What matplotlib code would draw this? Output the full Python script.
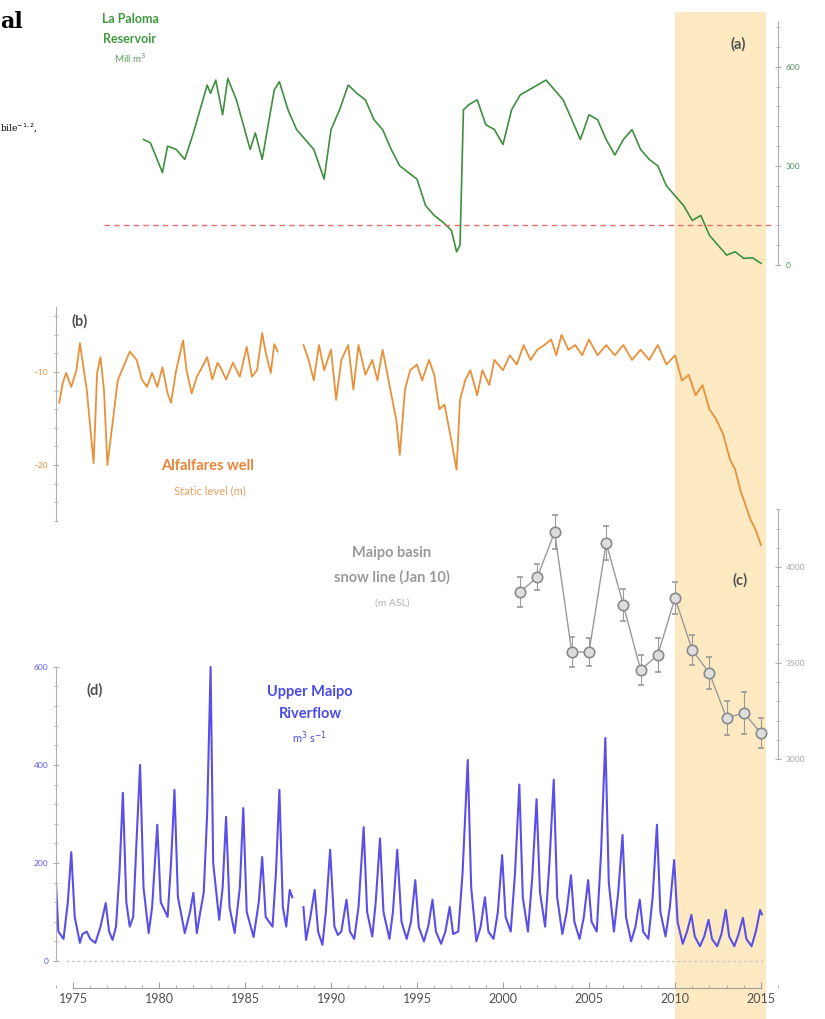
import numpy as np
import matplotlib
matplotlib.use("Agg")
from matplotlib import pyplot as plt
from matplotlib.ticker import MultipleLocator, FixedLocator

plt.rcParams['font.family'] = ['Lato', 'DejaVu Sans']

# (a) La Paloma reservoir volume, Mill m3
res_year = [1979.1, 1979.5, 1980.2, 1980.5, 1981.0, 1981.5, 1982.0, 1982.8, 1983.0, 1983.3,
            1983.7, 1984.0, 1984.5, 1985.3, 1985.6, 1986.0, 1986.7, 1987.0, 1987.5, 1988.0,
            1988.5, 1989.0, 1989.6, 1990.0, 1990.5, 1991.0, 1991.5, 1992.0, 1992.5, 1993.0,
            1993.5, 1994.0, 1995.0, 1995.5, 1996.0, 1996.5, 1997.0, 1997.3, 1997.5, 1997.7,
            1998.0, 1998.5, 1999.0, 1999.5, 2000.0, 2000.5, 2001.0, 2001.5, 2002.0, 2002.5,
            2003.0, 2003.5, 2004.0, 2004.5, 2005.0, 2005.5, 2006.0, 2006.5, 2007.0, 2007.5,
            2008.0, 2008.5, 2009.0, 2009.5, 2010.0, 2010.5, 2011.0, 2011.5, 2012.0, 2012.5,
            2013.0, 2013.5, 2014.0, 2014.5, 2015.0]
res_vol = [380, 370, 280, 360, 350, 320, 400, 545, 520, 560,
           455, 565, 500, 350, 400, 320, 530, 555, 470, 410,
           380, 350, 260, 410, 470, 545, 520, 500, 440, 410,
           350, 300, 260, 180, 150, 130, 105, 40, 60, 470,
           485, 500, 425, 410, 365, 470, 515, 530, 545, 560,
           530, 500, 440, 380, 455, 440, 380, 333, 380, 410,
           350, 320, 300, 240, 210, 180, 135, 150, 90, 60,
           30, 40, 20, 22, 5]

# (b) Alfalfares well static level, m
well_year = [1974.2, 1974.4, 1974.6, 1974.9, 1975.2, 1975.4, 1975.8, 1976.2, 1976.4, 1976.6,
             1976.8, 1977.0, 1977.3, 1977.6, 1978.3, 1978.7, 1979.0, 1979.3, 1979.6, 1979.9,
             1980.2, 1980.5, 1980.7, 1981.0, 1981.4, 1981.6, 1981.9, 1982.2, 1982.5, 1982.8,
             1983.1, 1983.4, 1983.6, 1983.9, 1984.3, 1984.7, 1985.1, 1985.4, 1985.7, 1986.0,
             1986.2, 1986.5, 1986.7, 1986.9, np.nan,
             1988.4, 1988.7, 1989.0, 1989.3, 1989.6, 1990.0, 1990.3, 1990.6, 1991.0, 1991.3,
             1991.6, 1992.0, 1992.4, 1992.7, 1993.0, 1993.4, 1993.8, 1994.0, 1994.3, 1994.6,
             1995.0, 1995.3, 1995.7, 1996.0, 1996.3, 1996.6, 1997.0, 1997.3, 1997.5, 1997.8,
             1998.1, 1998.5, 1998.8, 1999.2, 1999.5, 2000.0, 2000.4, 2000.8, 2001.2, 2001.6,
             2002.0, 2002.4, 2002.8, 2003.1, 2003.4, 2003.8, 2004.2, 2004.6, 2005.0, 2005.5,
             2006.0, 2006.5, 2007.0, 2007.5, 2008.0, 2008.5, 2009.0, 2009.5, 2010.0, 2010.4,
             2010.8, 2011.2, 2011.6, 2012.0, 2012.4, 2012.8, 2013.2, 2013.5, 2013.8, 2014.1,
             2014.4, 2014.7, 2015.0]
well_level = [-13.3, -11.2, -10.1, -11.6, -9.8, -6.9, -11.9, -19.8, -10.1, -8.4,
              -11.9, -20.0, -15.5, -10.9, -7.8, -8.7, -10.8, -11.6, -10.1, -11.6,
              -9.5, -12.3, -13.3, -9.8, -6.6, -9.8, -12.3, -10.5, -9.5, -8.4,
              -10.8, -9.0, -9.6, -10.8, -9.0, -10.5, -7.3, -10.5, -9.8, -5.8,
              -7.9, -10.1, -7.0, -7.8, np.nan,
              -7.1, -8.7, -10.9, -7.1, -9.8, -7.6, -13.0, -8.7, -7.1, -11.9,
              -7.1, -10.3, -8.7, -10.9, -7.6, -11.4, -15.2, -18.9, -11.9, -9.8,
              -9.2, -10.9, -8.7, -10.3, -14.0, -13.5, -17.4, -20.5, -13.0, -10.9,
              -9.8, -12.5, -9.8, -11.4, -8.7, -9.8, -8.2, -9.2, -7.1, -8.7,
              -7.6, -7.1, -6.5, -8.2, -6.0, -7.6, -7.1, -8.2, -6.5, -8.2,
              -7.1, -8.2, -7.1, -8.7, -7.6, -8.7, -7.1, -9.2, -8.2, -10.9,
              -10.3, -12.5, -11.4, -14.0, -15.1, -16.7, -19.4, -20.5, -22.7, -24.3,
              -25.9, -27.0, -28.6]

# (c) Maipo basin snow line on Jan 10, m ASL
snow_year = [2001, 2002, 2003, 2004, 2005, 2006, 2007, 2008, 2009, 2010, 2011, 2012, 2013, 2014, 2015]
snow_line = [3870, 3948, 4182, 3557, 3557, 4125, 3802, 3464, 3542, 3839, 3568, 3448, 3214, 3240, 3135]
snow_err = [80, 70, 90, 80, 75, 90, 85, 80, 90, 85, 80, 85, 90, 110, 80]

# (d) Upper Maipo riverflow, m3 s-1
flow_year = [1974.00, 1974.15, 1974.45, 1974.7, 1974.9, 1975.1, 1975.4, 1975.55, 1975.8, 1976.0,
             1976.3, 1976.6, 1976.9, 1977.1, 1977.3, 1977.5, 1977.7, 1977.9, 1978.1, 1978.3,
             1978.5, 1978.7, 1978.9, 1979.1, 1979.4, 1979.6, 1979.9, 1980.1, 1980.5, 1980.7,
             1980.9, 1981.1, 1981.5, 1981.8, 1982.0, 1982.2, 1982.4, 1982.6, 1982.8, 1983.0,
             1983.15, 1983.5, 1983.7, 1983.9, 1984.1, 1984.4, 1984.7, 1984.9, 1985.1, 1985.5,
             1985.8, 1986.0, 1986.2, 1986.6, 1986.8, 1987.0, 1987.2, 1987.4, 1987.6, 1987.75,
             np.nan,
             1988.4, 1988.55, 1988.8, 1989.05, 1989.25, 1989.5, 1989.7, 1989.95, 1990.2, 1990.4,
             1990.6, 1990.9, 1991.1, 1991.35, 1991.6, 1991.9, 1992.1, 1992.4, 1992.6, 1992.85,
             1993.05, 1993.4, 1993.6, 1993.85, 1994.1, 1994.4, 1994.65, 1994.9, 1995.1, 1995.4,
             1995.65, 1995.9, 1996.1, 1996.4, 1996.65, 1996.9, 1997.1, 1997.4, 1997.65, 1997.95,
             1998.15, 1998.45, 1998.7, 1998.95, 1999.15, 1999.45, 1999.7, 1999.95, 2000.15, 2000.45,
             2000.7, 2000.95, 2001.15, 2001.45, 2001.7, 2001.95, 2002.15, 2002.45, 2002.7, 2002.95,
             2003.15, 2003.45, 2003.7, 2003.95, 2004.15, 2004.45, 2004.7, 2004.95, 2005.15, 2005.45,
             2005.7, 2005.95, 2006.15, 2006.45, 2006.7, 2006.95, 2007.15, 2007.45, 2007.7, 2007.95,
             2008.15, 2008.45, 2008.7, 2008.95, 2009.15, 2009.45, 2009.7, 2009.95, 2010.15, 2010.45,
             2010.7, 2010.95, 2011.15, 2011.45, 2011.7, 2011.95, 2012.15, 2012.45, 2012.7, 2012.95,
             2013.15, 2013.45, 2013.7, 2013.95, 2014.15, 2014.45, 2014.7, 2014.95, 2015.05]
flow = [165, 60, 45, 120, 222, 90, 37, 55, 60, 45,
        37, 70, 118, 60, 43, 70, 180, 343, 120, 70,
        90, 250, 400, 150, 57, 110, 278, 120, 90, 200,
        349, 130, 57, 100, 139, 57, 100, 139, 300, 600,
        200, 84, 150, 294, 110, 57, 150, 312, 100, 49,
        120, 212, 90, 70, 180, 349, 110, 70, 145, 130,
        np.nan,
        110, 43, 90, 145, 60, 33, 100, 227, 70, 53,
        60, 125, 60, 45, 110, 273, 100, 50, 120, 250,
        100, 45, 100, 227, 80, 45, 80, 165, 70, 40,
        70, 125, 60, 35, 60, 110, 55, 60, 180, 410,
        150, 40, 70, 130, 60, 45, 100, 216, 90, 60,
        180, 360, 130, 60, 170, 330, 140, 70, 200, 370,
        130, 55, 100, 175, 80, 45, 90, 165, 80, 60,
        220, 455, 160, 60, 140, 257, 90, 40, 70, 125,
        60, 45, 130, 278, 100, 50, 110, 206, 80, 35,
        60, 94, 50, 30, 50, 84, 45, 30, 55, 104,
        50, 30, 55, 88, 45, 30, 60, 104, 95]

x_ticks = [1975, 1980, 1985, 1990, 1995, 2000, 2005, 2010, 2015]
drought = [2010, 2015.3]

W, H = 825, 1019
X0, X1 = 1974, 2016
LEFT, RIGHT = 55.8, 778.2

fig = plt.figure(figsize=(W / 100, H / 100), dpi=100)


def panel(top, bottom):
    ax = fig.add_axes([LEFT / W, 1 - bottom / H, (RIGHT - LEFT) / W, (bottom - top) / H])
    ax.set_xlim(X0, X1)
    ax.patch.set_alpha(0)
    for s in ['top', 'bottom', 'left', 'right']:
        ax.spines[s].set_visible(False)
    ax.set_xticks([])
    ax.set_yticks([])
    return ax


def style_y(ax, side, color, major, minor, bounds, ylim):
    ax.set_ylim(*ylim)
    ax.spines[side].set_visible(True)
    ax.spines[side].set_color('#b0b0b0')
    ax.spines[side].set_bounds(*bounds)
    if side == 'right':
        ax.yaxis.tick_right()
    ax.yaxis.set_major_locator(FixedLocator(major))
    ax.yaxis.set_minor_locator(FixedLocator(minor))
    ax.tick_params(axis='y', which='both', colors='#b0b0b0', labelcolor=color,
                   labelsize=6, length=4, direction='inout')
    ax.tick_params(axis='y', which='minor', length=2.5)
    ax.set_ylim(*ylim)


def ftext(x, y, s, **kw):
    fig.text(x / W, 1 - y / H, s, ha='center', va='center', **kw)


# shaded drought period behind everything
bg = panel(12, H)
bg.set_ylim(0, 1)
bg.axvspan(*drought, color='#fdeac2', lw=0)

# (a) reservoir
ax_a = panel(18, 265)
ax_a.plot(res_year, res_vol, color='#3f8f3f', lw=1.2)
ax_a.hlines(120, 1976.8, 2015.8, colors='#e07070', linestyles=(0, (4, 3)), lw=1)
style_y(ax_a, 'right', '#4f8f5f', [0, 300, 600], np.arange(0, 741, 60), (0, 740), (0, 748))

# (b) well
ax_b = panel(300, 560)
ax_b.plot(well_year, well_level, color='#e8913a', lw=1.3)
style_y(ax_b, 'left', '#e8913a', [-20, -10], np.arange(-26, -3, 2), (-26, -3), (-30.2, -2.26))

# (c) snow line
ax_c = panel(500, 770)
ax_c.errorbar(snow_year, snow_line, yerr=snow_err, color='#9a9a9a', lw=1, marker='o',
              ms=7.5, mfc='#dedede', mec='#8a8a8a', mew=1.2, ecolor='#9a9a9a', elinewidth=0.8,
              capsize=2)
style_y(ax_c, 'right', '#a8a8a8', [3000, 3500, 4000], np.arange(3000, 4301, 100),
        (3000, 4300), (2943, 4349))

# (d) riverflow
ax_d = panel(661, 988)
ax_d.plot(flow_year, flow, color='#5a4fe6', lw=1.5)
ax_d.hlines(0, 1974.6, 2015.2, colors='#c8c8c8', linestyles=(0, (2, 2)), lw=1)
style_y(ax_d, 'left', '#5a5af0', [0, 200, 400, 600], np.arange(0, 601, 40), (0, 600), (-55.1, 612))
ax_d.spines['bottom'].set_visible(True)
ax_d.spines['bottom'].set_color('#a0a0a0')
ax_d.spines['bottom'].set_bounds(1975, 2015)
ax_d.set_xticks(x_ticks)
ax_d.xaxis.set_minor_locator(MultipleLocator(1))
ax_d.tick_params(axis='x', which='both', colors='#a0a0a0', labelcolor='#505050',
                 labelsize=9, length=4, direction='in')
ax_d.tick_params(axis='x', which='minor', length=2)
ax_d.set_xlim(X0, X1)

# labels
ftext(130, 19, 'La Paloma', color='#3f9a3f', fontsize=9, fontweight='bold')
ftext(130, 39, 'Reservoir', color='#3f9a3f', fontsize=9, fontweight='bold')
ftext(130, 58, 'Mill m$^3$', color='#5fa05f', fontsize=7)
ftext(738, 44, '(a)', color='#505050', fontsize=10.5, fontweight='bold')
ftext(80, 321, '(b)', color='#505050', fontsize=10.5, fontweight='bold')
ftext(208, 466, 'Alfalfares well', color='#e8853a', fontsize=10.5, fontweight='bold')
ftext(210, 491, 'Static level (m)', color='#eaa060', fontsize=8)
ftext(392, 553, 'Maipo basin', color='#9a9a9a', fontsize=10.5, fontweight='bold')
ftext(392, 577, 'snow line (Jan 10)', color='#9a9a9a', fontsize=10.5, fontweight='bold')
ftext(392, 603, '(m ASL)', color='#b0b0b0', fontsize=7.5)
ftext(740, 580, '(c)', color='#505050', fontsize=10.5, fontweight='bold')
ftext(95, 690, '(d)', color='#505050', fontsize=10.5, fontweight='bold')
ftext(310, 692, 'Upper Maipo', color='#4a4ae6', fontsize=10.5, fontweight='bold')
ftext(310, 714, 'Riverflow', color='#4a4ae6', fontsize=10.5, fontweight='bold')
ftext(310, 738, 'm$^3$ s$^{-1}$', color='#4a4ae6', fontsize=8)
fig.text(0.0, 1 - 22 / H, 'al', ha='left', va='center', fontsize=16, fontweight='bold',
         family='DejaVu Serif')
fig.text(0.0, 1 - 128 / H, 'bile$^{-1,2}$,', ha='left', va='center', fontsize=6.5,
         family='DejaVu Serif')

fig.savefig('out.png', dpi=100)
